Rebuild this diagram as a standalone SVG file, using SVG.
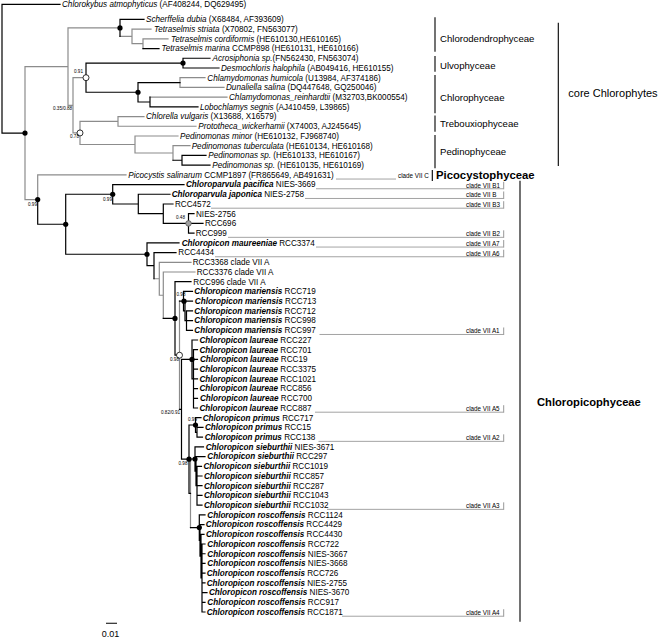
<svg xmlns="http://www.w3.org/2000/svg" width="660" height="639" viewBox="0 0 660 639">
<style>
text{font-family:"Liberation Sans",Arial,sans-serif;fill:#000}
.t{font-size:8.15px}
.i{font-style:italic}
.bi{font-style:italic;font-weight:bold}
.k{stroke:#000;stroke-width:1.2;fill:none;stroke-linecap:square}
.g{stroke:#8c8c8c;stroke-width:1.2;fill:none;stroke-linecap:square}
.ld{stroke:#8c8c8c;stroke-width:0.8;fill:none}
.bar{stroke:#000;stroke-width:1.1}
.cb{stroke:#8c8c8c;stroke-width:0.9}
.cl{font-size:6.3px}
.sv{font-size:4.6px}
.grp{font-size:9.6px}
.dot{fill:#000}
.open{fill:#fff;stroke:#000;stroke-width:0.8}
.gray{fill:#a0a0a0;stroke:#444;stroke-width:0.6}
</style>
<rect width="660" height="639" fill="#fff"/>
<g id="connectors">
<path class="g" d="M25 66.61V199.56M25 66.61H68M68 27.9V105.32M68 27.9H120M120 36.4H132M132 29.12V43.69M132 29.12H151M132 43.69H143M143 38.83V48.55M143 38.83H168M68 105.32H73M73 77.69V132.95M73 77.69H86M73 132.95H80M180 77.69V87.41M180 77.69H205M180 87.41H224M150 97.12H227M80 121.41V144.48M80 121.41H118M118 116.55V126.27M118 116.55H144M118 126.27H196M80 144.48H135M135 135.98V152.99M135 135.98H178M135 152.99H173M173 145.7V160.27M173 145.7H190M25 199.56H37.7M37.7 174.84V199.56M37.7 174.84H126M154 278.76H159.3M159.3 262.28V295.23M159.3 262.28H191M159.3 295.23H163.3M163.3 271.99V318.47M163.3 271.99H195M179.5 301.14V409.3M190.5 459V527.62"/>
<path class="k" d="M2 4.3V133.08M2 4.3H60M2 133.08H25M120 19.4V36.4M120 19.4H144M143 48.55H159M86 63.12V92.27M86 63.12H183M183 58.26V67.98M183 58.26H210M183 67.98H219M86 92.27H138M138 82.55V101.98M138 82.55H180M138 101.98H150M150 97.12V106.84M150 106.84H198M173 160.27H182M182 155.41V165.13M182 155.41H206M182 165.13H210M37.7 199.56V224.27M37.7 224.27H65.7M65.7 194.27V254.26M65.7 194.27H112.7M112.7 184.56V203.99M112.7 184.56H184M112.7 203.99H138.3M138.3 194.27V213.7M138.3 194.27H170M138.3 213.7H163.3M163.3 203.99V223.42M163.3 203.99H173M163.3 223.42H188.5M188.5 213.7V233.13M188.5 213.7H194M188.5 223.42H203M188.5 233.13H194M65.7 254.26H147M147 242.85V265.66M147 242.85H179M147 265.66H154M154 252.56V278.76M154 252.56H176M163.3 318.47H175M175 281.71V355.22M175 281.71H191M175 355.22H179.5M179.5 301.14H183.5M183.5 291.42V310.85M183.5 291.42H192.5M183.5 310.85H185M185 301.14V320.57M185 301.14H192.5M185 320.57H186.5M186.5 310.85V330.28M186.5 310.85H192.5M186.5 320.57H192.5M186.5 330.28H192.5M179.5 409.3H181.5M181.5 359.43V459.16M181.5 359.43H192M192 340V378.86M192 340H197.5M192 378.86H193.5M193.5 349.71V408M193.5 349.71H197.5M193.5 359.43H197.5M193.5 369.14H197.5M193.5 378.86H197.5M193.5 388.57H197.5M193.5 398.29H197.5M193.5 408H197.5M181.5 459.16H189M189 425V493.31M189 425H195.5M195.5 417.72V432.29M195.5 417.72H201M195.5 432.29H197M197 427.43V437.15M197 427.43H203M197 437.15H202.5M189 493.31H190.5M190.5 459H195M195 446.86V471.15M195 446.86H203.5M195 471.15H196M196 456.58V485.72M196 456.58H205M196 485.72H197M197 466.29V505.15M197 466.29H201.5M197 476.01H202M197 485.72H202M197 495.44H202M197 505.15H202M190.5 527.62H199.3M199.3 514.87V540.37M199.3 514.87H205M199.3 540.37H200M200 524.58V556.16M200 524.58H204M200 556.16H201M201 534.3V578.02M201 534.3H204M201 578.02H202M202 544.01V612.02M202 544.01H205M202 553.73H205M202 563.44H205M202 573.16H205M202 582.87H205M202 592.59H207M202 602.3H205M202 612.02H205"/>
<path class="ld" d="M336 179.04H396M316 188.76H503.5M305 198.47H503.5M211 208.19H503.5M228 237.33H503.5M316 247.05H503.5M215 256.76H503.5M319.5 334.48H503.5M315 412.2H503.5M318.5 441.35H503.5M327 509.35H503.5M342 616.22H503.5"/>
<path class="cb" d="M503.7 181.76V189.26M503.7 191.47V198.97M503.7 201.19V208.69M503.7 230.33V237.83M503.7 240.05V247.55M503.7 249.76V257.26M503.7 327.48V334.98M503.7 405.2V412.7M503.7 434.35V441.85M503.7 502.35V509.85M503.7 609.22V616.72"/>
<path class="bar" d="M435 17.3V51.7M435 56V71.7M435 75V113.3M435 115.5V131.7M435 135V168.3M432.3 170V181M558.3 22.7V166M520 180.7V621.7M106 623.3H117"/>
</g>
<g id="node-dots">
<circle class="dot" cx="25" cy="133.08" r="2.6"/>
<circle class="dot" cx="120" cy="27.9" r="2.6"/>
<circle class="dot" cx="183" cy="63.12" r="2.6"/>
<circle class="dot" cx="138" cy="92.27" r="2.6"/>
<circle class="dot" cx="37.7" cy="199.56" r="2.6"/>
<circle class="dot" cx="65.7" cy="224.27" r="2.6"/>
<circle class="dot" cx="112.7" cy="194.27" r="2.6"/>
<circle class="dot" cx="147" cy="254.26" r="2.6"/>
<circle class="dot" cx="175" cy="318.47" r="2.6"/>
<circle class="dot" cx="184" cy="301.14" r="2.6"/>
<circle class="dot" cx="192" cy="359.43" r="2.6"/>
<circle class="dot" cx="195.5" cy="425" r="2.6"/>
<circle class="dot" cx="189" cy="459.16" r="2.6"/>
<circle class="dot" cx="195" cy="459" r="2.6"/>
<circle class="dot" cx="199.3" cy="527.62" r="2.6"/>
<circle class="open" cx="86" cy="77.69" r="3"/>
<circle class="open" cx="80" cy="132.95" r="3"/>
<circle class="open" cx="179.5" cy="355.22" r="3"/>
<circle class="gray" cx="188.5" cy="223.42" r="2.8"/>
</g>
<g id="support-values">
<text class="sv" x="74" y="73.3">0.91</text>
<text class="sv" x="53" y="110">0.35/0.88</text>
<text class="sv" x="70" y="138.3">0.78</text>
<text class="sv" x="28" y="206">0.99</text>
<text class="sv" x="103" y="201">0.99</text>
<text class="sv" x="176" y="219.3">0.48</text>
<text class="sv" x="176.5" y="295.6">0.98</text>
<text class="sv" x="170" y="361">0.98</text>
<text class="sv" x="161" y="414">0.82/0.91</text>
<text class="sv" x="188" y="420.6">0.99</text>
<text class="sv" x="178.5" y="464.5">0.98</text>
</g>
<g id="leaf-chlorokybus"><text class="t" x="62" y="7.2"><tspan class="i">Chlorokybus atmophyticus</tspan> (AF408244, DQ629495)</text></g>
<g id="leaf-0"><text class="t" x="146" y="22.3"><tspan class="i">Scherffelia dubia</tspan> (X68484, AF393609)</text></g>
<g id="leaf-1"><text class="t" x="154" y="32.02"><tspan class="i">Tetraselmis striata</tspan> (X70802, FN563077)</text></g>
<g id="leaf-2"><text class="t" x="171" y="41.73"><tspan class="i">Tetraselmis cordiformis</tspan> (HE610130,HE610165)</text></g>
<g id="leaf-3"><text class="t" x="161.5" y="51.45"><tspan class="i">Tetraselmis marina</tspan> CCMP898 (HE610131, HE610166)</text></g>
<g id="leaf-4"><text class="t" x="212.5" y="61.16"><tspan class="i">Acrosiphonia sp.</tspan>(FN562430, FN563074)</text></g>
<g id="leaf-5"><text class="t" x="221" y="70.88"><tspan class="i">Desmochloris halophila</tspan> (AB049416, HE610155)</text></g>
<g id="leaf-6"><text class="t" x="207.3" y="80.59"><tspan class="i">Chlamydomonas humicola</tspan> (U13984, AF374186)</text></g>
<g id="leaf-7"><text class="t" x="226" y="90.31"><tspan class="i">Dunaliella salina</tspan> (DQ447648, GQ250046)</text></g>
<g id="leaf-8"><text class="t" x="229" y="100.02"><tspan class="i">Chlamydomonas_reinhardtii</tspan> (M32703,BK000554)</text></g>
<g id="leaf-9"><text class="t" x="200" y="109.74"><tspan class="i">Lobochlamys segnis</tspan> (AJ410459, L39865)</text></g>
<g id="leaf-10"><text class="t" x="146" y="119.45"><tspan class="i">Chlorella vulgaris</tspan> (X13688, X16579)</text></g>
<g id="leaf-11"><text class="t" x="198.3" y="129.17"><tspan class="i">Prototheca_wickerhamii</tspan> (X74003, AJ245645)</text></g>
<g id="leaf-12"><text class="t" x="180" y="138.88"><tspan class="i">Pedinomonas minor</tspan> (HE610132, FJ968740)</text></g>
<g id="leaf-13"><text class="t" x="191.7" y="148.6"><tspan class="i">Pedinomonas tuberculata</tspan> (HE610134, HE610168)</text></g>
<g id="leaf-14"><text class="t" x="208.3" y="158.31"><tspan class="i">Pedinomonas sp.</tspan> (HE610133, HE610167)</text></g>
<g id="leaf-15"><text class="t" x="212.3" y="168.03"><tspan class="i">Pedinomonas sp.</tspan> (HE610135, HE610169)</text></g>
<g id="leaf-16"><text class="t" x="128.3" y="177.74"><tspan class="i">Picocystis salinarum</tspan> CCMP1897 (FR865649, AB491631)</text></g>
<g id="leaf-17"><text class="t" x="186" y="187.46"><tspan class="bi">Chloroparvula pacifica</tspan> NIES-3669</text></g>
<g id="leaf-18"><text class="t" x="171.7" y="197.17"><tspan class="bi">Chloroparvula japonica</tspan> NIES-2758</text></g>
<g id="leaf-19"><text class="t" x="175" y="206.89">RCC4572</text></g>
<g id="leaf-20"><text class="t" x="196" y="216.6">NIES-2756</text></g>
<g id="leaf-21"><text class="t" x="205" y="226.32">RCC696</text></g>
<g id="leaf-22"><text class="t" x="195.7" y="236.03">RCC999</text></g>
<g id="leaf-23"><text class="t" x="181.7" y="245.75"><tspan class="bi">Chloropicon maureeniae</tspan> RCC3374</text></g>
<g id="leaf-24"><text class="t" x="178.3" y="255.46">RCC4434</text></g>
<g id="leaf-25"><text class="t" x="192.7" y="265.18">RCC3368 clade VII A</text></g>
<g id="leaf-26"><text class="t" x="196.7" y="274.89">RCC3376 clade VII A</text></g>
<g id="leaf-27"><text class="t" x="193.3" y="284.61">RCC996 clade VII A</text></g>
<g id="leaf-28"><text class="t" x="194.3" y="294.32"><tspan class="bi">Chloropicon mariensis</tspan> RCC719</text></g>
<g id="leaf-29"><text class="t" x="194.8" y="304.04"><tspan class="bi">Chloropicon mariensis</tspan> RCC713</text></g>
<g id="leaf-30"><text class="t" x="194.3" y="313.75"><tspan class="bi">Chloropicon mariensis</tspan> RCC712</text></g>
<g id="leaf-31"><text class="t" x="194.3" y="323.47"><tspan class="bi">Chloropicon mariensis</tspan> RCC998</text></g>
<g id="leaf-32"><text class="t" x="194.3" y="333.18"><tspan class="bi">Chloropicon mariensis</tspan> RCC997</text></g>
<g id="leaf-33"><text class="t" x="199.5" y="342.9"><tspan class="bi">Chloropicon laureae</tspan> RCC227</text></g>
<g id="leaf-34"><text class="t" x="199.5" y="352.61"><tspan class="bi">Chloropicon laureae</tspan> RCC701</text></g>
<g id="leaf-35"><text class="t" x="200" y="362.33"><tspan class="bi">Chloropicon laureae</tspan> RCC19</text></g>
<g id="leaf-36"><text class="t" x="199.5" y="372.04"><tspan class="bi">Chloropicon laureae</tspan> RCC3375</text></g>
<g id="leaf-37"><text class="t" x="199.5" y="381.76"><tspan class="bi">Chloropicon laureae</tspan> RCC1021</text></g>
<g id="leaf-38"><text class="t" x="199.5" y="391.47"><tspan class="bi">Chloropicon laureae</tspan> RCC856</text></g>
<g id="leaf-39"><text class="t" x="200" y="401.19"><tspan class="bi">Chloropicon laureae</tspan> RCC700</text></g>
<g id="leaf-40"><text class="t" x="199.5" y="410.9"><tspan class="bi">Chloropicon laureae</tspan> RCC887</text></g>
<g id="leaf-41"><text class="t" x="202.7" y="420.62"><tspan class="bi">Chloropicon primus</tspan> RCC717</text></g>
<g id="leaf-42"><text class="t" x="205" y="430.33"><tspan class="bi">Chloropicon primus</tspan> RCC15</text></g>
<g id="leaf-43"><text class="t" x="204.7" y="440.05"><tspan class="bi">Chloropicon primus</tspan> RCC138</text></g>
<g id="leaf-44"><text class="t" x="205.7" y="449.76"><tspan class="bi">Chloropicon sieburthii</tspan> NIES-3671</text></g>
<g id="leaf-45"><text class="t" x="207.3" y="459.48"><tspan class="bi">Chloropicon sieburthii</tspan> RCC297</text></g>
<g id="leaf-46"><text class="t" x="203.5" y="469.19"><tspan class="bi">Chloropicon sieburthii</tspan> RCC1019</text></g>
<g id="leaf-47"><text class="t" x="204" y="478.91"><tspan class="bi">Chloropicon sieburthii</tspan> RCC857</text></g>
<g id="leaf-48"><text class="t" x="204" y="488.62"><tspan class="bi">Chloropicon sieburthii</tspan> RCC287</text></g>
<g id="leaf-49"><text class="t" x="204" y="498.34"><tspan class="bi">Chloropicon sieburthii</tspan> RCC1043</text></g>
<g id="leaf-50"><text class="t" x="204" y="508.05"><tspan class="bi">Chloropicon sieburthii</tspan> RCC1032</text></g>
<g id="leaf-51"><text class="t" x="207.3" y="517.77"><tspan class="bi">Chloropicon roscoffensis</tspan> RCC1124</text></g>
<g id="leaf-52"><text class="t" x="205.8" y="527.48"><tspan class="bi">Chloropicon roscoffensis</tspan> RCC4429</text></g>
<g id="leaf-53"><text class="t" x="206" y="537.2"><tspan class="bi">Chloropicon roscoffensis</tspan> RCC4430</text></g>
<g id="leaf-54"><text class="t" x="207.3" y="546.91"><tspan class="bi">Chloropicon roscoffensis</tspan> RCC722</text></g>
<g id="leaf-55"><text class="t" x="207.3" y="556.63"><tspan class="bi">Chloropicon roscoffensis</tspan> NIES-3667</text></g>
<g id="leaf-56"><text class="t" x="207.3" y="566.34"><tspan class="bi">Chloropicon roscoffensis</tspan> NIES-3668</text></g>
<g id="leaf-57"><text class="t" x="206.7" y="576.06"><tspan class="bi">Chloropicon roscoffensis</tspan> RCC726</text></g>
<g id="leaf-58"><text class="t" x="206.7" y="585.77"><tspan class="bi">Chloropicon roscoffensis</tspan> NIES-2755</text></g>
<g id="leaf-59"><text class="t" x="209" y="595.49"><tspan class="bi">Chloropicon roscoffensis</tspan> NIES-3670</text></g>
<g id="leaf-60"><text class="t" x="207.3" y="605.2"><tspan class="bi">Chloropicon roscoffensis</tspan> RCC917</text></g>
<g id="leaf-61"><text class="t" x="206.7" y="614.92"><tspan class="bi">Chloropicon roscoffensis</tspan> RCC1871</text></g>
<g id="clade-labels">
<text class="cl" x="398" y="177.8">clade VII C</text>
<text class="cl" x="466" y="187.56">clade VII B1</text>
<text class="cl" x="466" y="197.27">clade VII B</text>
<text class="cl" x="466" y="206.99">clade VII B3</text>
<text class="cl" x="466" y="236.13">clade VII B2</text>
<text class="cl" x="466" y="245.85">clade VII A7</text>
<text class="cl" x="466" y="255.56">clade VII A6</text>
<text class="cl" x="466" y="333.28">clade VII A1</text>
<text class="cl" x="466" y="411">clade VII A5</text>
<text class="cl" x="466" y="440.15">clade VII A2</text>
<text class="cl" x="466" y="508.15">clade VII A3</text>
<text class="cl" x="466" y="615.02">clade VII A4</text>
</g>
<g id="group-chlorodendrophyceae"><text class="grp" x="440" y="41.7">Chlorodendrophyceae</text></g>
<g id="group-ulvophyceae"><text class="grp" x="440" y="69.1">Ulvophyceae</text></g>
<g id="group-chlorophyceae"><text class="grp" x="440" y="101.1">Chlorophyceae</text></g>
<g id="group-trebouxiophyceae"><text class="grp" x="440" y="127.4">Trebouxiophyceae</text></g>
<g id="group-pedinophyceae"><text class="grp" x="440" y="155.4">Pedinophyceae</text></g>
<g id="group-core"><text x="568.3" y="96.6" style="font-size:11px">core Chlorophytes</text></g>
<g id="group-picocystophyceae"><text x="436" y="179.4" style="font-size:11.3px;font-weight:bold">Picocystophyceae</text></g>
<g id="group-chloropicophyceae"><text x="537" y="406" style="font-size:11.2px;font-weight:bold">Chloropicophyceae</text></g>
<g id="scale"><text x="110.5" y="636.6" style="font-size:9px" text-anchor="middle">0.01</text></g>
</svg>
